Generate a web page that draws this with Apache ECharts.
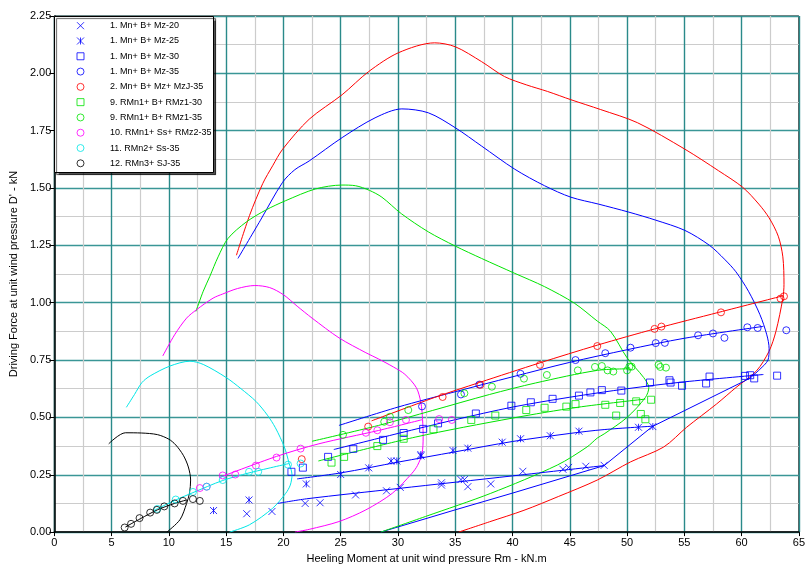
<!DOCTYPE html>
<html>
<head>
<meta charset="utf-8">
<script src="https://cdn.jsdelivr.net/npm/echarts@6/dist/echarts.min.js"></script>
<style>
  html, body { margin: 0; background: #fff; }
  #chart { width: 808px; height: 569px; }
</style>
</head>
<body>
<div id="chart"></div>
<script>
// --- measured points (Rm kN.m, D' kN) ---
const mz20Pts = [[16.8,0.08],[19.0,0.09],[21.9,0.125],[23.2,0.128],[26.3,0.162],[29.0,0.18],[30.2,0.195],[33.8,0.215],[33.8,0.205],
  [35.5,0.229],[35.8,0.229],[36.1,0.198],[38.1,0.21],[40.9,0.265],[44.4,0.274],[44.9,0.282],[46.4,0.287],[48.0,0.291]];
const mz25Pts = [[13.9,0.094],[17.0,0.14],[22.0,0.21],[25.0,0.251],[27.45,0.28],[29.4,0.31],[29.9,0.31],[32.0,0.332],[32.0,0.338],
  [34.8,0.356],[36.1,0.366],[39.1,0.392],[40.7,0.407],[43.3,0.42],[45.8,0.44],[51.0,0.457],[52.25,0.46]];
const mz30Pts = [[20.7,0.263],[21.7,0.281],[23.9,0.328],[26.1,0.363],[28.7,0.402],[30.5,0.432],[32.2,0.45],[33.5,0.474],[36.8,0.517],
  [39.9,0.551],[41.6,0.566],[43.5,0.581],[45.8,0.595],[46.8,0.609],[47.8,0.619],[49.5,0.617],[52.0,0.652],[53.7,0.662],[53.8,0.652],
  [54.8,0.638],[56.9,0.648],[57.2,0.678],[60.3,0.681],[60.75,0.684],[61.1,0.67],[63.1,0.682]];
const mz35Pts = [[32.1,0.548],[35.5,0.60],[37.1,0.643],[40.7,0.69],[45.5,0.75],[48.1,0.78],[50.3,0.804],[52.5,0.824],[53.3,0.825],
  [56.2,0.858],[57.5,0.866],[58.5,0.847],[60.5,0.893],[61.4,0.89],[63.9,0.88]];
const mzj35Pts = [[21.6,0.318],[27.4,0.46],[33.9,0.589],[37.2,0.642],[42.4,0.729],[47.4,0.811],[52.4,0.886],[53.0,0.896],[58.2,0.958],
  [63.4,1.018],[63.7,1.028]];
const rmz130Pts = [[24.2,0.303],[25.3,0.328],[28.2,0.375],[30.5,0.407],[33.1,0.448],[36.4,0.489],[38.5,0.508],[41.2,0.532],[42.8,0.542],
  [44.7,0.547],[45.5,0.558],[48.1,0.555],[49.4,0.563],[50.8,0.57],[52.1,0.577],[49.05,0.508],[51.2,0.515],[51.6,0.492]];
const rmz135Pts = [[25.2,0.424],[28.8,0.481],[29.3,0.503],[30.9,0.532],[35.8,0.605],[38.2,0.634],[41.0,0.669],[43.0,0.685],[45.7,0.705],
  [47.2,0.72],[47.8,0.724],[48.3,0.705],[48.8,0.70],[50.0,0.705],[50.2,0.721],[50.4,0.721],[52.75,0.729],[52.9,0.72],[53.4,0.717]];
const rmz235Pts = [[12.7,0.192],[13.3,0.198],[14.7,0.247],[15.8,0.251],[17.6,0.29],[19.4,0.325],[21.5,0.364],[27.2,0.433],[28.2,0.444],
  [29.3,0.479],[30.7,0.489],[33.6,0.493],[34.7,0.489]];
const ss35Pts = [[9.0,0.101],[10.6,0.142],[12.1,0.175],[13.3,0.198],[14.7,0.227],[17.0,0.263],[17.8,0.263],[20.4,0.294],[21.5,0.299]];
const sj35Pts = [[6.14,0.02],[6.7,0.036],[7.44,0.061],[8.37,0.085],[8.95,0.097],[9.6,0.112],[10.5,0.125],[11.23,0.136],[12.1,0.144],[12.7,0.136]];

// --- fitted lines ---
const mz20Fit = [[19.5,0.125],[22,0.145],[30,0.19],[40,0.245],[48,0.29]];
const mz25Fit = [[21.2,0.232],[25,0.258],[30,0.305],[35,0.35],[40,0.395],[45,0.43],[48,0.447],[52.3,0.462]];
const mz30Fit = [[24.4,0.36],[30,0.43],[35,0.49],[40,0.545],[45,0.588],[50,0.625],[55,0.655],[61.9,0.687]];
const mz35Fit = [[24.85,0.465],[30,0.545],[35,0.612],[40,0.677],[45,0.74],[50,0.795],[55,0.845],[61.9,0.897]];
const mzj35Fit = [[27.7,0.485],[33.2,0.587],[37.1,0.652],[42.4,0.738],[47.4,0.815],[52.5,0.887],[58,0.958],[63.6,1.03]];
const rmz130Fit = [[23.05,0.31],[31.5,0.414],[40,0.497],[45.66,0.544],[51.6,0.58]];
const rmz135Fit = [[22.5,0.396],[28.3,0.465],[33,0.53],[38,0.6],[42,0.65],[47.4,0.705],[50.2,0.712]];
const rmz235Fit = [[14.4,0.238],[19.4,0.33],[23.1,0.385],[28.3,0.443],[32.1,0.49]];
const ss35Fit = [[8.8,0.097],[10.6,0.14],[12.1,0.172],[14.7,0.225],[17,0.258],[20.5,0.299]];
const sj35Fit = [[6.2,0.022],[7.5,0.058],[9,0.097],[10.5,0.125],[11.55,0.14]];

// --- envelope curves ---
const redEnv = [[15.9,1.207],[17.04,1.38],[18.2,1.52],[19.06,1.597],[19.93,1.669],[22.25,1.8],[25.13,1.907],[27.45,2.008],[30.05,2.09],
  [33.2,2.133],[35.0,2.116],[37.3,2.051],[39.3,1.986],[41.2,1.95],[43.06,1.921],[45.1,1.885],[47.7,1.842],[50.9,1.785],[55.06,1.669],
  [58,1.575],[60.1,1.503],[61.5,1.43],[62.4,1.37],[63.2,1.29],[63.6,1.2],[63.7,1.08],[63.6,1.02],[63.0,0.876],[62.4,0.789],[61.3,0.703],
  [59.5,0.63],[57.8,0.558],[55.2,0.457],[53.2,0.371],[50.3,0.306],[47.4,0.227],[44,0.155],[41,0.095],[38,0.045],[35.3,0]];
const blueEnv = [[16.03,1.193],[18,1.36],[19.93,1.525],[21,1.58],[22.25,1.618],[25.13,1.72],[28.0,1.806],[30.34,1.845],[32.65,1.828],
  [35.0,1.763],[37.3,1.683],[40.2,1.582],[42.8,1.51],[45.1,1.46],[47.5,1.43],[50.15,1.395],[52.5,1.36],[55.06,1.315],[57.2,1.25],
  [58.5,1.19],[59.5,1.135],[60.6,1.05],[61.6,0.948],[62.2,0.86],[62.4,0.80],[62.3,0.75],[61.6,0.71],[60.7,0.67]];
const blueEnvLow = [[60.7,0.67],[52.2,0.46],[48,0.29],[45,0.245],[40,0.17],[35,0.097],[28.5,0]];
const greenEnv = [[12.36,0.962],[13.0,1.05],[13.57,1.114],[14.3,1.2],[15.16,1.28],[16.76,1.352],[18.5,1.405],[20.2,1.445],[22.8,1.496],
  [25.1,1.513],[26.3,1.51],[27.5,1.49],[28.6,1.46],[30.3,1.388],[32.65,1.309],[35.0,1.247],[37.3,1.193],[40.2,1.128],[42.8,1.07],
  [45.4,0.998],[47.4,0.92],[48.55,0.876],[50.0,0.76],[51.45,0.674],[51.9,0.63],[51.6,0.587],[50.0,0.50],[48.0,0.428],[47.4,0.41],
  [46.5,0.371],[43.9,0.292],[38.1,0.169],[32.4,0.068],[28.5,0]];
const magentaEnv = [[9.47,0.768],[10.5,0.86],[11.55,0.933],[12.4,0.969],[13.86,1.02],[14.7,1.038],[16,1.062],[17.5,1.075],[18.8,1.066],
  [20.0,1.035],[21.2,0.985],[22.5,0.933],[24.85,0.847],[27.2,0.782],[28.3,0.755],[29.6,0.72],[30.6,0.688],[31.6,0.63],[32.0,0.565],
  [32.15,0.49],[32.2,0.414],[32.1,0.342],[31.7,0.29],[31.2,0.255],[29.5,0.169],[27.2,0.097],[24.85,0.046],[22.25,0.012],[21,0]];
const cyanEnv = [[6.29,0.544],[7.0,0.60],[7.65,0.652],[8.37,0.681],[10.1,0.724],[11.84,0.745],[13.0,0.731],[15.0,0.674],[16.3,0.625],
  [17.6,0.57],[18.6,0.51],[19.3,0.455],[20.08,0.371],[20.5,0.3],[20.75,0.25],[20.6,0.205],[20.2,0.169],[19.06,0.104],[17.04,0.032],[15.3,0]];
const blackEnv = [[4.75,0.385],[6.2,0.433],[7.6,0.432],[9.0,0.425],[10.0,0.405],[10.6,0.38],[11.26,0.335],[11.7,0.284],[11.9,0.227],
  [11.8,0.17],[11.55,0.125],[10.97,0.054],[9.82,0]];

const legendNames = ['1. Mn+ B+ Mz-20', '1. Mn+ B+ Mz-25', '1. Mn+ B+ Mz-30', '1. Mn+ B+ Mz-35', '2. Mn+ B+ Mz+ MzJ-35',
  '9. RMn1+ B+ RMz1-30', '9. RMn1+ B+ RMz1-35', '10. RMn1+ Ss+ RMz2-35', '11. RMn2+ Ss-35', '12. RMn3+ SJ-35'];

const BLUE = '#0000ff', RED = '#ff0000', GREEN = '#00e400', MAG = '#ff00ff', CYAN = '#00e6e6', BLACK = '#000000';
const X_SYM = 'path://M0,0L10,10M10,0L0,10';
const STAR_SYM = 'path://M0,0L10,10M10,0L0,10M5,0L5,10';
const SQ_SYM = 'path://M0,0L10,0L10,10L0,10Z';
const markers = [X_SYM, STAR_SYM, SQ_SYM, 'circle', 'circle', SQ_SYM, 'circle', 'circle', 'circle', 'circle'];
const colors = [BLUE, BLUE, BLUE, BLUE, RED, GREEN, GREEN, MAG, CYAN, BLACK];
const pointSets = [mz20Pts, mz25Pts, mz30Pts, mz35Pts, mzj35Pts, rmz130Pts, rmz135Pts, rmz235Pts, ss35Pts, sj35Pts];

function pts(i) {
  return {
    name: legendNames[i], type: 'scatter', data: pointSets[i], symbol: markers[i], symbolSize: 7, z: 5,
    itemStyle: { color: 'rgba(0,0,0,0)', borderColor: colors[i], borderWidth: 1 },
    silent: true
  };
}
function curve(data, color, smooth) {
  return {
    type: 'line', data, showSymbol: false, smooth: smooth, z: 3, silent: true,
    lineStyle: { color, width: 1 }
  };
}
// one legend row per entry, so every icon gets its own colour
function legendRow(i) {
  return {
    data: [legendNames[i]], orient: 'horizontal', left: 76.5, top: 18.2 + i * 15.29,
    padding: 0, itemWidth: 7, itemHeight: 7, selectedMode: false, z: 20,
    itemStyle: { borderColor: colors[i], borderWidth: 1 },
    textStyle: { fontFamily: 'Liberation Sans', fontSize: 9, color: '#000', lineHeight: 15, padding: [0, 0, 0, 21] }
  };
}

const chart = echarts.init(document.getElementById('chart'));
chart.setOption({
  animation: false,
  backgroundColor: '#fff',
  grid: { left: 54, right: 5, top: 16, bottom: 33, show: true, borderColor: '#000', borderWidth: 1 },
  graphic: [{
    type: 'rect', z: 10, silent: true,
    shape: { x: 54.5, y: 16.5, width: 159, height: 156 },
    style: { fill: '#fff', stroke: '#000', lineWidth: 1,
      shadowColor: 'rgba(0,0,0,0.65)', shadowOffsetX: 2, shadowOffsetY: 2, shadowBlur: 1 }
  }],
  legend: legendNames.map((n, i) => legendRow(i)),
  xAxis: {
    type: 'value', min: 0, max: 65, interval: 5,
    name: 'Heeling Moment at unit wind pressure Rm - kN.m', nameLocation: 'middle', nameGap: 20,
    nameTextStyle: { fontFamily: 'Liberation Sans', fontSize: 11, color: '#000' },
    axisLine: { lineStyle: { color: '#000', width: 1.5 } },
    axisTick: { show: true, length: 4, lineStyle: { color: '#000' } },
    axisLabel: { fontFamily: 'Liberation Sans', fontSize: 11, color: '#000', margin: 5 },
    splitLine: { lineStyle: { color: '#2a8a8a', width: 1.4 } },
    minorTick: { show: false, splitNumber: 2 },
    minorSplitLine: { show: true, lineStyle: { color: '#cccccc', width: 1.2 } }
  },
  yAxis: {
    type: 'value', min: 0, max: 2.25, interval: 0.25,
    name: "Driving Force at unit wind pressure D' - kN", nameLocation: 'middle', nameGap: 23,
    nameTextStyle: { fontFamily: 'Liberation Sans', fontSize: 11, color: '#000' },
    axisLine: { show: true, lineStyle: { color: '#000', width: 1.5 } },
    axisTick: { show: true, length: 5, lineStyle: { color: '#000' } },
    axisLabel: { fontFamily: 'Liberation Sans', fontSize: 11, color: '#000', margin: 3,
      formatter: v => v.toFixed(2) },
    splitLine: { lineStyle: { color: '#3a9696', width: 1.4 } },
    minorTick: { show: false, splitNumber: 2 },
    minorSplitLine: { show: true, lineStyle: { color: '#cccccc', width: 1.2 } }
  },
  series: [
    curve(redEnv, RED, 0.3),
    curve(blueEnv, BLUE, 0.3),
    curve(blueEnvLow, BLUE, false),
    curve(greenEnv, GREEN, 0.3),
    curve(magentaEnv, MAG, 0.3),
    curve(cyanEnv, CYAN, 0.3),
    curve(blackEnv, BLACK, 0.3),
    curve(mz20Fit, BLUE, 0.3),
    curve(mz25Fit, BLUE, 0.3),
    curve(mz30Fit, BLUE, 0.3),
    curve(mz35Fit, BLUE, 0.3),
    curve(mzj35Fit, RED, 0.3),
    curve(rmz130Fit, GREEN, 0.3),
    curve(rmz135Fit, GREEN, 0.3),
    curve(rmz235Fit, MAG, 0.3),
    curve(ss35Fit, CYAN, 0.3),
    curve(sj35Fit, BLACK, 0.3)
  ].concat(legendNames.map((n, i) => pts(i)))
});
</script>
</body>
</html>
